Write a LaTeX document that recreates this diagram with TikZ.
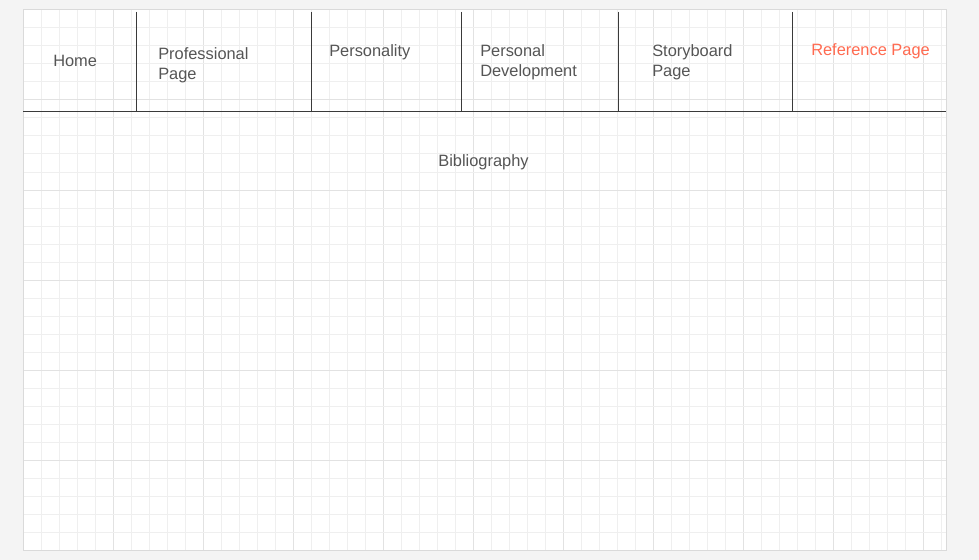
\documentclass[tikz,border=0pt]{standalone}
\usepackage{fontspec}
\setmainfont{Liberation Sans}
\definecolor{pagebg}{HTML}{F4F4F4}
\definecolor{canvasborder}{HTML}{DADADA}
\definecolor{gridminor}{HTML}{EFEFEF}
\definecolor{gridmajor}{HTML}{E2E2E2}
\definecolor{navline}{HTML}{3A3A3A}
\definecolor{txt}{HTML}{555555}
\definecolor{accent}{HTML}{FF6A50}
\begin{document}
\begin{tikzpicture}[x=0.75pt,y=-0.75pt,
  navtext/.style={anchor=west,align=left,text=txt,font=\fontsize{12.3pt}{15pt}\selectfont,inner sep=0pt},
  navsep/.style={draw=navline,line width=0.75pt}]
\useasboundingbox (0,0) rectangle (979,560);
\fill[pagebg] (0,0) rectangle (979,560);
\fill[white] (23,10) rectangle (946,550);
% grid
\foreach \k in {1,...,51} {
  \pgfmathtruncatemacro{\m}{mod(\k,5)}
  \ifnum\m=0
    \draw[gridmajor,line width=0.75pt] ({23+18*\k},10) -- ({23+18*\k},550);
  \else
    \draw[gridminor,line width=0.75pt] ({23+18*\k},10) -- ({23+18*\k},550);
  \fi
}
\foreach \k in {1,...,29} {
  \pgfmathtruncatemacro{\m}{mod(\k,5)}
  \ifnum\m=0
    \draw[gridmajor,line width=0.75pt] (23,{10+18*\k}) -- (946,{10+18*\k});
  \else
    \draw[gridminor,line width=0.75pt] (23,{10+18*\k}) -- (946,{10+18*\k});
  \fi
}
\draw[canvasborder,line width=0.75pt] (23,10) rectangle (946,550);
% nav bar
\coordinate (barL) at (23,111.5);
\coordinate (barR) at (946,111.5);
\draw[navsep] (barL) -- (barR);
\foreach \xx/\nm in {136/a,311/b,461/c,618/d,792/e} {
  \coordinate (t\nm) at (\xx,12);
  \coordinate (b\nm) at (\xx,111.5);
  \draw[navsep] (t\nm) -- (b\nm);
}
\node[navtext] (home) at (53,61) {Home};
\node[navtext] (prof) at (158,65) {Professional\\Page};
\node[navtext] (pers) at (329,52.5) {Personality};
\node[navtext] (pdev) at (480,62.5) {Personal\\Development};
\node[navtext] (story) at (652,62.5) {Storyboard\\Page};
\node[navtext,text=accent] (ref) at (811,51.5) {Reference Page};
\node[navtext,anchor=center] (bib) at (483.5,162.5) {Bibliography};
\end{tikzpicture}
\end{document}
